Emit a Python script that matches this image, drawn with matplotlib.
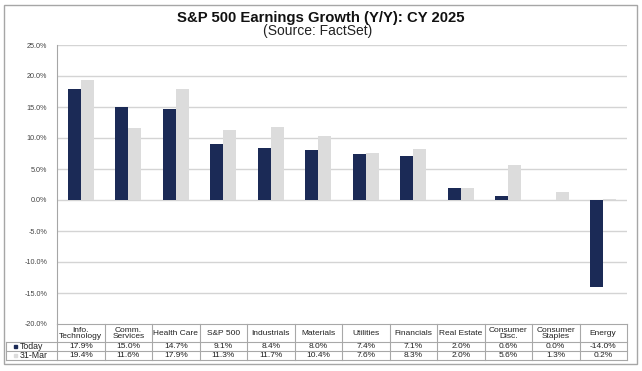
import matplotlib
matplotlib.use("Agg")
import matplotlib.pyplot as plt
from matplotlib.patches import Rectangle
from matplotlib.lines import Line2D

plt.rcParams['font.family'] = ['Liberation Sans', 'DejaVu Sans']

categories = ["Info.\nTechnology", "Comm.\nServices", "Health Care", "S&P 500", "Industrials",
              "Materials", "Utilities", "Financials", "Real Estate", "Consumer\nDisc.",
              "Consumer\nStaples", "Energy"]
today = [17.9, 15.0, 14.7, 9.1, 8.4, 8.0, 7.4, 7.1, 2.0, 0.6, 0.0, -14.0]
mar31 = [19.4, 11.6, 17.9, 11.3, 11.7, 10.4, 7.6, 8.3, 2.0, 5.6, 1.3, 0.2]
series_names = ["Today", "31-Mar"]
yticks = [-20, -15, -10, -5, 0, 5, 10, 15, 20, 25]

NAVY = "#1B2A56"
LIGHT = "#DCDCDC"
GRID = "#D4D4D4"
EDGE = "#A6A6A6"
TXT = "#444444"

W, H = 642, 371
fig = plt.figure(figsize=(W / 100, H / 100), dpi=100)

# pixel layout
px_l, px_r, px_t, px_b = 57, 627, 45, 324
ax = fig.add_axes([px_l / W, 1 - px_b / H, (px_r - px_l) / W, (px_b - px_t) / H])
n = len(categories)
x = list(range(n))
bw = 0.275
ax.bar([i - bw / 2 for i in x], today, width=bw, color=NAVY, zorder=3)
ax.bar([i + bw / 2 for i in x], mar31, width=bw, color=LIGHT, zorder=3)
ax.set_xlim(-0.5, n - 0.5)
ax.set_ylim(-20, 25)
ax.set_yticks(yticks)
ax.set_yticklabels([f"{v:.1f}%" for v in yticks], fontsize=5.2, color=TXT)
ax.set_xticks([])
ax.tick_params(axis='y', length=0, pad=7)
for y in yticks[1:]:
    ax.axhline(y, color=GRID, lw=1, zorder=1)
for s in ["top", "right", "bottom"]:
    ax.spines[s].set_visible(False)
ax.spines["left"].set_color(EDGE)
ax.spines["left"].set_linewidth(0.8)

# overlay in pixel coordinates
ov = fig.add_axes([0, 0, 1, 1], zorder=5)
ov.set_xlim(0, W)
ov.set_ylim(H, 0)
ov.axis("off")
ov.patch.set_alpha(0)

# outer border
ov.add_patch(Rectangle((4, 5), 633, 359, fill=False, edgecolor=EDGE, lw=1))

# title
ov.text(321, 18, "S&P 500 Earnings Growth (Y/Y): CY 2025", ha="center", va="center",
        fontsize=10.7, fontweight="bold", color="#111111")
ov.text(318, 30.5, "(Source: FactSet)", ha="center", va="center", fontsize=10, color="#222222")

# table
colw = (px_r - px_l) / n
y_h0, y_h1, y_r1, y_r2 = 324, 342, 350.9, 359.8
lab_l = 6
tcol = "#A8A8A8"
ov.add_line(Line2D([px_l, px_r], [y_h0, y_h0], color=tcol, lw=0.8))
for yy in (y_h1, y_r1, y_r2):
    ov.add_line(Line2D([lab_l, px_r], [yy, yy], color=tcol, lw=0.8))
for i in range(n + 1):
    xx = px_l + i * colw
    ov.add_line(Line2D([xx, xx], [y_h0, y_r2], color=tcol, lw=0.8))
ov.add_line(Line2D([lab_l, lab_l], [y_h1, y_r2], color=tcol, lw=0.8))

fs = 6
for i, c in enumerate(categories):
    cx = px_l + (i + 0.5) * colw
    ov.text(cx, (y_h0 + y_h1) / 2 + 0.5, c, ha="center", va="center", fontsize=fs,
            color="#222222", linespacing=0.95)
    ov.text(cx, (y_h1 + y_r1) / 2 + 0.3, f"{today[i]:.1f}%", ha="center", va="center",
            fontsize=fs, color="#222222")
    ov.text(cx, (y_r1 + y_r2) / 2 + 0.3, f"{mar31[i]:.1f}%", ha="center", va="center",
            fontsize=fs, color="#222222")

for name, col, (ya, yb) in zip(series_names, [NAVY, LIGHT], [(y_h1, y_r1), (y_r1, y_r2)]):
    ym = (ya + yb) / 2
    ov.add_patch(Rectangle((14, ym - 1.6), 3.3, 3.3, color=col))
    ov.text(19.5, ym + 0.3, name, ha="left", va="center", fontsize=6.3,
            color="#222222")

fig.savefig("out.png", dpi=100)
